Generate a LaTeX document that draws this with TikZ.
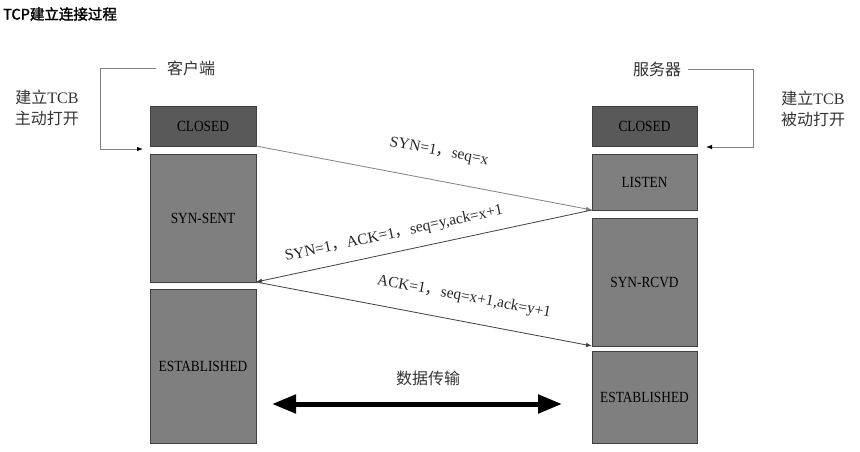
\documentclass[tikz,border=0pt]{standalone}
\usepackage{fontspec}
\setmainfont{Liberation Serif}
\newfontfamily\boxfont{Liberation Serif}[FakeStretch=0.86]
\newfontfamily\latinserif{Liberation Serif}
\newfontfamily\cjk{Noto Sans CJK SC}
\newfontfamily\cjkbold{Noto Sans CJK SC}[FakeBold=2]
\usetikzlibrary{arrows.meta}
\definecolor{darkbox}{HTML}{595959}
\definecolor{midbox}{HTML}{7F7F7F}
\definecolor{edgegray}{HTML}{404040}
\definecolor{linegray}{HTML}{808080}
\begin{document}
\begin{tikzpicture}[x=1pt,y=-1pt,
  statebox/.style={draw=edgegray, line width=0.8pt, inner sep=0pt, outer sep=0pt,
    minimum width=106pt, text=black, font=\boxfont\fontsize{15.5}{17}\selectfont},
  closedbox/.style={statebox, fill=darkbox},
  openbox/.style={statebox, fill=midbox},
  msg/.style={line width=0.8pt, -{Latex[length=6pt,width=4.5pt]}},
  lbl/.style={font=\latinserif\fontsize{15.5}{17}\selectfont, text=black!85, inner sep=0pt},
  cjklbl/.style={font=\cjk\fontsize{16}{21}\selectfont, text=black!80, inner sep=1pt, align=center},
  bracket/.style={draw=linegray, line width=0.8pt, -{Latex[length=6pt,width=4.5pt,color=black]}}
]
\useasboundingbox (0,0) rectangle (860,452);
% title
\node[anchor=west, font=\cjkbold\fontsize{14.5}{16}\selectfont, inner sep=0pt] (title) at (3,14) {TCP建立连接过程};
% left column
\node[closedbox, minimum height=40pt] (lc) at (203,126) {CLOSED};
\node[openbox, minimum height=128pt] (ls) at (203,218) {SYN-SENT};
\node[openbox, minimum height=154pt] (le) at (203,366) {ESTABLISHED};
% right column
\node[closedbox, minimum width=105pt, minimum height=40pt] (rc) at (644.5,126) {CLOSED};
\node[openbox, minimum width=105pt, minimum height=56pt] (rl) at (644.5,182) {LISTEN};
\node[openbox, minimum width=105pt, minimum height=128pt] (rs) at (644.5,282) {SYN-RCVD};
\node[openbox, minimum width=105pt, minimum height=92pt] (re) at (644.5,397) {ESTABLISHED};
% side labels
\node[cjklbl] (ck) at (191,68) {客户端};
\node[cjklbl] (fw) at (657,69) {服务器};
\node[cjklbl] (la) at (47,108) {建立{\latinserif TCB}\\主动打开};
\node[cjklbl] (ra) at (813,109) {建立{\latinserif TCB}\\被动打开};
% brackets
\coordinate (l1) at (100,68);
\coordinate (l2) at (100,149);
\coordinate (l3) at (143,149);
\draw[bracket] (ck.west) ++(-10,0) -- (l1) -- (l2) -- (l3);
\coordinate (r1) at (753,69);
\coordinate (r2) at (753,147);
\coordinate (r3) at (706,147);
\draw[bracket] (fw.east) ++(6,0) -- (r1) -- (r2) -- (r3);
% messages
\draw[msg, draw=linegray] (lc.south east) -- (rl.south west);
\draw[msg, draw=edgegray] (rl.south west) -- (ls.south east);
\draw[msg, draw=edgegray] (ls.south east) -- (rs.south west);
\node[lbl, rotate=-10.8] (m1) at (439,152) {SYN=1{\cjk ，}seq=x};
\node[lbl, rotate=12.1] (m2) at (394,234) {SYN=1{\cjk ，}ACK=1{\cjk ，}seq=y,ack=x+1};
\node[lbl, rotate=-10.8] (m3) at (464,297) {ACK=1{\cjk ，}seq=x+1,ack=y+1};
% data transfer
\node[cjklbl] (dt) at (428,378) {数据传输};
\coordinate (d1) at (272,404);
\coordinate (d2) at (562,404);
\draw[line width=5pt, {Triangle[length=24pt,width=18pt]}-{Triangle[length=24pt,width=18pt]}] (d1) -- (d2);
\end{tikzpicture}
\end{document}
